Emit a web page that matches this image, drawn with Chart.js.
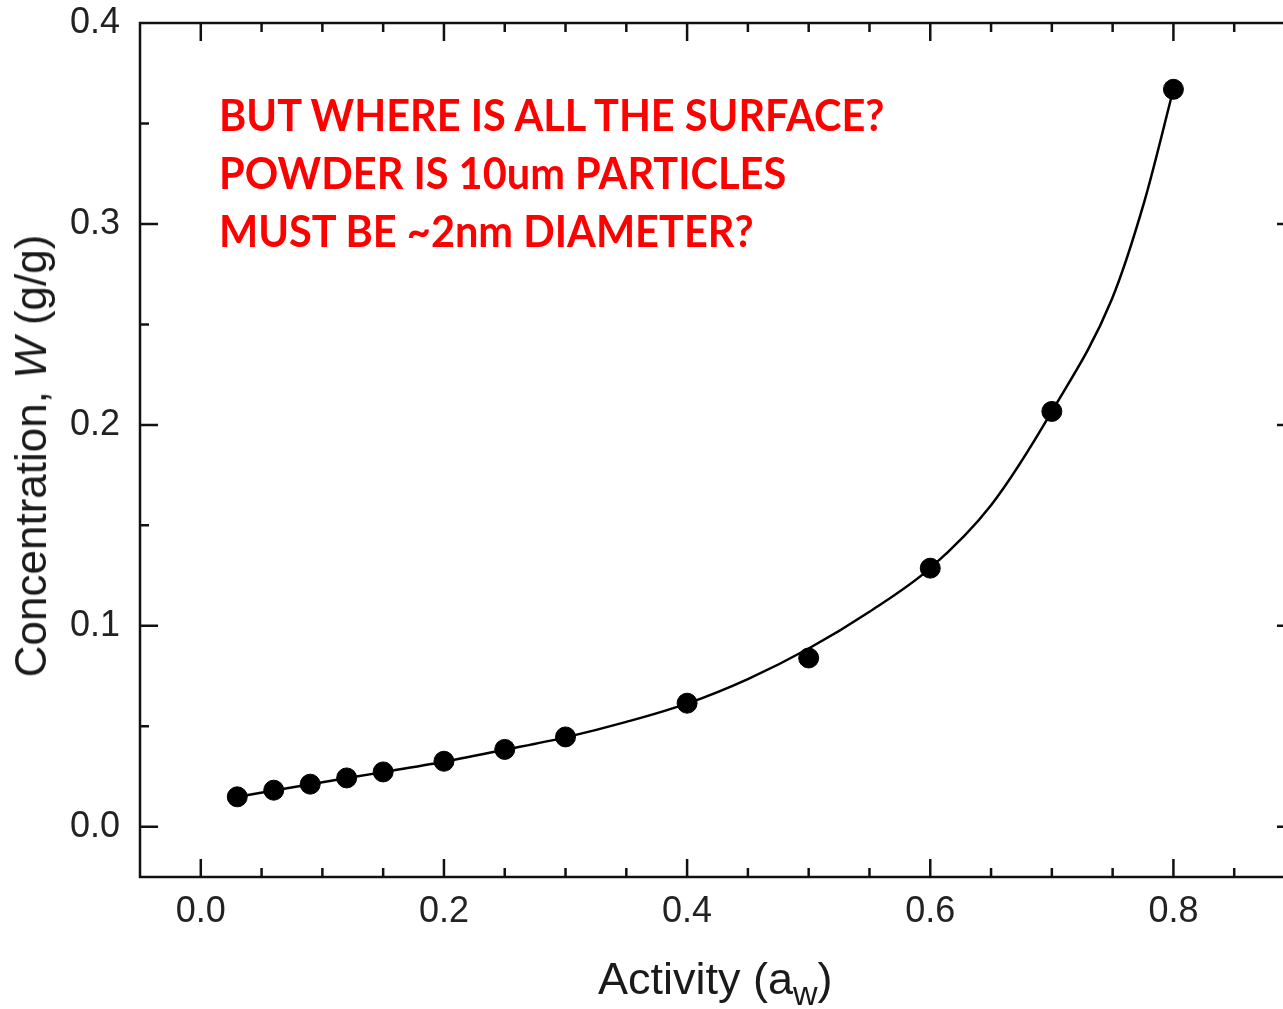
<!DOCTYPE html>
<html>
<head>
<meta charset="utf-8">
<script src="https://cdn.jsdelivr.net/npm/chart.js@4.4.1/dist/chart.umd.min.js"></script>
<style>
  html, body { margin: 0; padding: 0; background: #fff; overflow: hidden; }
  #wrap { position: relative; width: 1283px; height: 1009px; overflow: hidden; }
  canvas { position: absolute; left: 0; top: 0; }
  .ttl { position: absolute; font-family: "Liberation Sans", Arial, sans-serif; font-size: 44px; line-height: 44px; color: #1a1a1a; white-space: nowrap; }
  .ttl sub { font-size: 34px; vertical-align: -11px; line-height: 0; }
  #ytitle { left: 31px; top: 456px; transform: translate(-50%, -50%) rotate(-90deg); }
  #xtitle { left: 598px; top: 957px; font-size: 45px; }
  .note { position: absolute; left: 219px; font-family: Lato, "Open Sans", sans-serif; font-weight: 700; font-size: 44px; line-height: 44px; color: #ff0000; white-space: nowrap; transform-origin: 0 50%; }
</style>
</head>
<body>
<div id="wrap">
  <canvas id="c" width="1306" height="1009"></canvas>
  <div class="ttl" id="ytitle">Concentration, <i>W</i> (g/g)</div>
  <div class="ttl" id="xtitle">Activity (a<sub>w</sub>)</div>
  <div class="note" style="top:92px">BUT WHERE IS ALL THE SURFACE?</div>
  <div class="note" style="top:150px">POWDER IS 10um PARTICLES</div>
  <div class="note" style="top:208px">MUST BE ~2nm DIAMETER?</div>
</div>
<script>
// measured points
const activity = [0.03, 0.06, 0.09, 0.12, 0.15, 0.2, 0.25, 0.3, 0.4, 0.5, 0.6, 0.7, 0.8];
const concentration = [0.0149, 0.0182, 0.0212, 0.0243, 0.0273, 0.0326, 0.0385, 0.0447, 0.0615, 0.084, 0.1287, 0.2067, 0.367];

// fitted curve
const fitActivity = [0.03, 0.06, 0.1, 0.15, 0.2, 0.25, 0.3, 0.35, 0.4, 0.45, 0.5, 0.55, 0.6, 0.65, 0.7, 0.749, 0.776, 0.8];
const fitConcentration = [0.0149, 0.0181, 0.0222, 0.0272, 0.0324, 0.0383, 0.0445, 0.0522, 0.0613, 0.0735, 0.0887, 0.107, 0.1287, 0.16, 0.2067, 0.262, 0.311, 0.367];

// axes
const xTicks = [0.0, 0.2, 0.4, 0.6, 0.8];
const yTicks = [0.0, 0.1, 0.2, 0.3, 0.4];
const xMinorStep = 0.05, yMinorStep = 0.05;

const tickFont = { family: '"Liberation Sans", Arial, sans-serif', size: 36 };

// inward ticks on all four sides + frame
const frameTicks = {
  id: 'frameTicks',
  afterDraw(chart) {
    const { ctx, chartArea: { left, right, top, bottom }, scales: { x, y } } = chart;
    ctx.save();
    ctx.strokeStyle = '#111';
    ctx.lineWidth = 2.5;
    ctx.strokeRect(left, top, right - left, bottom - top);
    ctx.beginPath();
    for (let v = x.min; v <= x.max + 1e-9; v += xMinorStep) {
      const px = x.getPixelForValue(v);
      if (px <= left + 2 || px >= right - 2) continue;
      const len = xTicks.some(t => Math.abs(t - v) < 1e-6) ? 18 : 9;
      ctx.moveTo(px, bottom); ctx.lineTo(px, bottom - len);
      ctx.moveTo(px, top); ctx.lineTo(px, top + len);
    }
    for (let v = 0; v <= y.max + 1e-9; v += yMinorStep) {
      const py = y.getPixelForValue(v);
      if (py <= top + 2 || py >= bottom - 2) continue;
      const len = yTicks.some(t => Math.abs(t - v) < 1e-6) ? 18 : 9;
      ctx.moveTo(left, py); ctx.lineTo(left + len, py);
      ctx.moveTo(right, py); ctx.lineTo(right - len, py);
    }
    ctx.stroke();
    ctx.restore();
  }
};

new Chart(document.getElementById('c'), {
  type: 'scatter',
  data: {
    datasets: [
      {
        label: 'fit',
        data: fitActivity.map((a, i) => ({ x: a, y: fitConcentration[i] })),
        showLine: true,
        borderColor: '#000',
        borderWidth: 2.5,
        pointRadius: 0,
        cubicInterpolationMode: 'monotone'
      },
      {
        label: 'data',
        data: activity.map((a, i) => ({ x: a, y: concentration[i] })),
        backgroundColor: '#000',
        borderColor: '#000',
        pointRadius: 10,
        pointHoverRadius: 10
      }
    ]
  },
  options: {
    responsive: false,
    animation: false,
    layout: { padding: { left: 0, top: 23, right: 6, bottom: 0 } },
    plugins: { legend: { display: false }, tooltip: { enabled: false } },
    scales: {
      x: {
        type: 'linear', min: -0.05, max: 0.9,
        grid: { display: false, drawTicks: false },
        border: { display: false },
        afterBuildTicks: s => { s.ticks = xTicks.map(v => ({ value: v })); },
        afterFit: s => { s.height = 132; s.paddingLeft = 0; s.paddingRight = 0; },
        ticks: { font: tickFont, color: '#222', padding: 13, maxRotation: 0, callback: v => v.toFixed(1) }
      },
      y: {
        type: 'linear', min: -0.025, max: 0.4,
        grid: { display: false, drawTicks: false },
        border: { display: false },
        afterBuildTicks: s => { s.ticks = yTicks.map(v => ({ value: v })); },
        afterFit: s => { s.width = 140; s.paddingTop = 0; s.paddingBottom = 0; },
        ticks: { font: tickFont, color: '#222', padding: 20, callback: v => v.toFixed(1) }
      }
    }
  },
  plugins: [frameTicks]
});

// squeeze the note lines to the width they have in the picture
const notes = document.querySelectorAll('.note');
const k = 665 / notes[0].offsetWidth;
notes.forEach(n => { n.style.transform = 'scaleX(' + k + ')'; });
</script>
</body>
</html>
